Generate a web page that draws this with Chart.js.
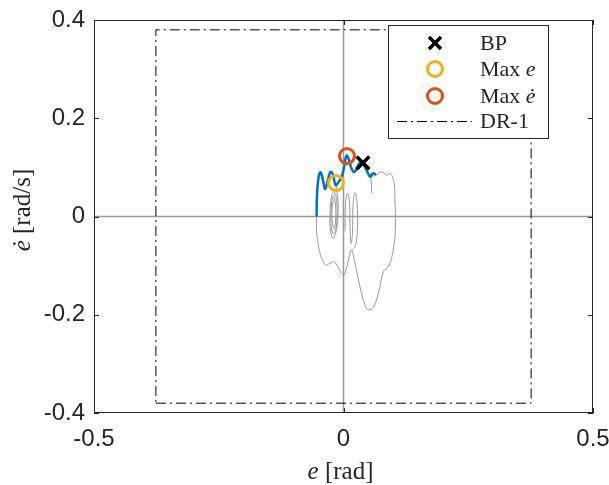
<!DOCTYPE html>
<html>
<head>
<meta charset="utf-8">
<script src="https://cdn.jsdelivr.net/npm/chart.js@4.4.0/dist/chart.umd.min.js"></script>
<style>
  html, body { margin: 0; padding: 0; background: #fff; }
  #wrap { width: 609px; height: 485px; }
</style>
</head>
<body>
<div id="wrap"><canvas id="phase"></canvas></div>
<script>
// ticks
const xTicks = [-0.5, 0, 0.5];
const xTickLabels = ['-0.5', '0', '0.5'];
const yTicks = [-0.4, -0.2, 0, 0.2, 0.4];
const yTickLabels = ['-0.4', '-0.2', '0', '0.2', '0.4'];

// blue part of the trajectory (e, e dot)
const blueE    = [-0.054, -0.053, -0.050, -0.046, -0.042, -0.037, -0.031, -0.026, -0.021, -0.016, -0.010, -0.004, 0.001, 0.006, 0.011, 0.016, 0.022, 0.028, 0.035, 0.046, 0.053, 0.060, 0.065];
const blueEdot = [0, 0.045, 0.080, 0.090, 0.078, 0.056, 0.075, 0.091, 0.085, 0.064, 0.070, 0.080, 0.100, 0.124, 0.115, 0.098, 0.091, 0.101, 0.112, 0.095, 0.081, 0.088, 0.084];

// gray trajectory: outer loop
const grayOuterE    = [-0.054, -0.054, -0.051, -0.047, -0.041, -0.035, -0.027, -0.020, -0.013, -0.004, 0.001, 0.006, 0.011, 0.016, 0.023, 0.033, 0.043, 0.050, 0.060, 0.070, 0.080, 0.090, 0.097, 0.103, 0.104, 0.103, 0.102, 0.098, 0.093, 0.087, 0.077, 0.065];
const grayOuterEdot = [0, -0.027, -0.054, -0.075, -0.091, -0.099, -0.095, -0.092, -0.099, -0.116, -0.119, -0.105, -0.084, -0.068, -0.095, -0.143, -0.180, -0.190, -0.184, -0.156, -0.112, -0.102, -0.082, -0.041, 0, 0.038, 0.064, 0.081, 0.087, 0.084, 0.091, 0.084];

// gray trajectory: small oscillations near the origin
const grayInnerE    = [-0.015, -0.011, -0.012, -0.016, -0.021, -0.026, -0.027, -0.024, -0.019, -0.014, -0.013, -0.016, -0.021, -0.025, -0.024, -0.020, -0.016, -0.016, -0.019, -0.023, -0.022, -0.018];
const grayInnerEdot = [0.062, 0.030, -0.010, -0.035, -0.045, -0.030, 0.005, 0.040, 0.050, 0.035, 0.000, -0.028, -0.035, -0.015, 0.025, 0.042, 0.025, -0.010, -0.025, -0.005, 0.025, 0.035];
const grayArchE     = [0.003, 0.004, 0.008, 0.012, 0.013, 0.015, 0.018, 0.019, 0.023, 0.027, 0.028, 0.025, 0.020, 0.016];
const grayArchEdot  = [-0.030, 0.025, 0.047, 0.030, -0.020, -0.055, -0.035, 0.020, 0.048, 0.030, -0.020, -0.055, -0.065, -0.068];
const grayHookE     = [0.054, 0.056, 0.056];
const grayHookEdot  = [0.088, 0.065, 0.048];

// markers
const bpPoint = [0.039, 0.109];
const maxEPoint = [-0.015, 0.068];
const maxEdotPoint = [0.007, 0.123];

// DR-1 limits
const drE = [-0.376, 0.376];
const drEdot = [-0.38, 0.38];

const toPts = (xs, ys) => xs.map((x, i) => ({ x: x, y: ys[i] }));

const drBox = toPts(
  [drE[0], drE[1], drE[1], drE[0], drE[0]],
  [drEdot[0], drEdot[0], drEdot[1], drEdot[1], drEdot[0]]
);

const GRAY = '#999999';
const BLUE = '#0072BD';
const YELLOW = '#EDB120';
const RED = '#D95319';
const AXIS = '#262626';
const DASH = [10, 4, 2, 4];

function lineSet(pts, color, width) {
  return { data: pts, showLine: true, borderColor: color, borderWidth: width,
           pointRadius: 0, tension: 0.4, fill: false };
}

// text with some italic parts
function drawMixed(ctx, parts, x, y, size, align) {
  let w = 0;
  parts.forEach(p => {
    ctx.font = (p.it ? 'italic ' : '') + size + 'px "Liberation Serif"';
    p.w = ctx.measureText(p.t).width;
    w += p.w;
  });
  let cx = align === 'center' ? x - w / 2 : x;
  ctx.textAlign = 'left';
  ctx.textBaseline = 'alphabetic';
  parts.forEach(p => {
    ctx.font = (p.it ? 'italic ' : '') + size + 'px "Liberation Serif"';
    ctx.fillText(p.t, cx, y);
    cx += p.w;
  });
}

const zeroLines = {
  id: 'zeroLines',
  beforeDatasetsDraw(chart) {
    const { ctx, chartArea: a, scales: { x, y } } = chart;
    ctx.save();
    ctx.strokeStyle = GRAY;
    ctx.lineWidth = 1.5;
    const x0 = x.getPixelForValue(0), y0 = y.getPixelForValue(0);
    ctx.beginPath();
    ctx.moveTo(x0, a.top); ctx.lineTo(x0, a.bottom);
    ctx.moveTo(a.left, y0); ctx.lineTo(a.right, y0);
    ctx.stroke();
    ctx.restore();
  }
};

const frameAndLegend = {
  id: 'frameAndLegend',
  afterDatasetsDraw(chart) {
    const { ctx, chartArea: a, scales: { x, y } } = chart;
    ctx.save();
    // box + inward ticks
    ctx.strokeStyle = AXIS;
    ctx.lineWidth = 1;
    ctx.strokeRect(a.left + 0.5, a.top + 0.5, a.right - a.left - 1, a.bottom - a.top - 1);
    ctx.beginPath();
    xTicks.forEach(v => {
      const px = Math.round(x.getPixelForValue(v)) + 0.5;
      ctx.moveTo(px, a.bottom); ctx.lineTo(px, a.bottom - 5);
      ctx.moveTo(px, a.top); ctx.lineTo(px, a.top + 5);
    });
    yTicks.forEach(v => {
      const py = Math.round(y.getPixelForValue(v)) + 0.5;
      ctx.moveTo(a.left, py); ctx.lineTo(a.left + 5, py);
      ctx.moveTo(a.right, py); ctx.lineTo(a.right - 5, py);
    });
    ctx.stroke();

    // axis titles
    ctx.fillStyle = AXIS;
    drawMixed(ctx, [{ t: 'e', it: true }, { t: ' [rad]' }], (a.left + a.right) / 2 - 3, 479, 25, 'center');
    ctx.save();
    ctx.translate(30, 210);
    ctx.rotate(-Math.PI / 2);
    drawMixed(ctx, [{ t: '\u0117', it: true }, { t: ' [rad/s]' }], 0, 0, 25, 'center');
    ctx.restore();

    // legend
    const L = 388, T = 25, R = 548, B = 138;
    ctx.fillStyle = '#ffffff';
    ctx.fillRect(L, T, R - L, B - T);
    ctx.strokeStyle = AXIS;
    ctx.lineWidth = 1;
    ctx.strokeRect(L + 0.5, T + 0.5, R - L, B - T);
    const mx = 435, tx = 480;
    const rows = [43, 69, 96, 121];
    // BP cross
    ctx.strokeStyle = '#000';
    ctx.lineWidth = 3.5;
    ctx.beginPath();
    ctx.moveTo(mx - 6, rows[0] - 6); ctx.lineTo(mx + 6, rows[0] + 6);
    ctx.moveTo(mx + 6, rows[0] - 6); ctx.lineTo(mx - 6, rows[0] + 6);
    ctx.stroke();
    // circles
    ctx.lineWidth = 3;
    ctx.strokeStyle = YELLOW;
    ctx.beginPath(); ctx.arc(mx, rows[1], 7.5, 0, Math.PI * 2); ctx.stroke();
    ctx.strokeStyle = RED;
    ctx.beginPath(); ctx.arc(mx, rows[2], 7.5, 0, Math.PI * 2); ctx.stroke();
    // dash-dot line
    ctx.strokeStyle = '#000';
    ctx.lineWidth = 1;
    ctx.setLineDash(DASH);
    ctx.beginPath();
    ctx.moveTo(397, rows[3] + 0.5); ctx.lineTo(472, rows[3] + 0.5);
    ctx.stroke();
    ctx.setLineDash([]);
    // labels
    ctx.fillStyle = AXIS;
    drawMixed(ctx, [{ t: 'BP' }], tx, rows[0] + 7, 22, 'left');
    drawMixed(ctx, [{ t: 'Max ' }, { t: 'e', it: true }], tx, rows[1] + 7, 22, 'left');
    drawMixed(ctx, [{ t: 'Max ' }, { t: '\u0117', it: true }], tx, rows[2] + 7, 22, 'left');
    drawMixed(ctx, [{ t: 'DR-1' }], tx, rows[3] + 7, 22, 'left');
    ctx.restore();
  }
};

const tickFont = { family: 'Liberation Sans', size: 24 };

new Chart(document.getElementById('phase').getContext('2d'), {
  type: 'scatter',
  data: {
    datasets: [
      { data: toPts([bpPoint[0]], [bpPoint[1]]), pointStyle: 'crossRot', pointRadius: 9,
        pointBorderWidth: 3.5, pointBorderColor: '#000', pointBackgroundColor: '#000' },
      { data: toPts([maxEdotPoint[0]], [maxEdotPoint[1]]), pointStyle: 'circle', pointRadius: 7.5,
        pointBorderWidth: 3, pointBorderColor: RED, pointBackgroundColor: 'rgba(0,0,0,0)' },
      { data: toPts([maxEPoint[0]], [maxEPoint[1]]), pointStyle: 'circle', pointRadius: 7.5,
        pointBorderWidth: 3, pointBorderColor: YELLOW, pointBackgroundColor: 'rgba(0,0,0,0)' },
      Object.assign(lineSet(drBox, '#000', 1), { tension: 0, borderDash: DASH }),
      lineSet(toPts(blueE, blueEdot), BLUE, 2.5),
      lineSet(toPts(grayHookE, grayHookEdot), GRAY, 1),
      lineSet(toPts(grayArchE, grayArchEdot), GRAY, 1),
      lineSet(toPts(grayInnerE, grayInnerEdot), GRAY, 1),
      lineSet(toPts(grayOuterE, grayOuterEdot), GRAY, 1)
    ]
  },
  options: {
    responsive: true,
    maintainAspectRatio: false,
    devicePixelRatio: 1,
    animation: false,
    events: [],
    layout: { padding: { left: 0, right: 16, top: 20, bottom: 0 } },
    plugins: { legend: { display: false }, tooltip: { enabled: false } },
    scales: {
      x: {
        type: 'linear', min: -0.5, max: 0.5,
        grid: { display: false, drawTicks: false },
        border: { display: false },
        afterBuildTicks: s => { s.ticks = xTicks.map(v => ({ value: v })); },
        afterFit: s => { s.height = 72; s.paddingLeft = 0; s.paddingRight = 0; },
        ticks: { font: tickFont, color: AXIS, padding: 12, maxRotation: 0, autoSkip: false,
                 callback: v => xTickLabels[xTicks.indexOf(v)] }
      },
      y: {
        type: 'linear', min: -0.4, max: 0.4,
        grid: { display: false, drawTicks: false },
        border: { display: false },
        afterBuildTicks: s => { s.ticks = yTicks.map(v => ({ value: v })); },
        afterFit: s => { s.width = 94; s.paddingTop = 0; s.paddingBottom = 0; },
        ticks: { font: tickFont, color: AXIS, padding: 9, autoSkip: false,
                 callback: v => yTickLabels[yTicks.indexOf(v)] }
      }
    }
  },
  plugins: [zeroLines, frameAndLegend]
});
</script>
</body>
</html>
